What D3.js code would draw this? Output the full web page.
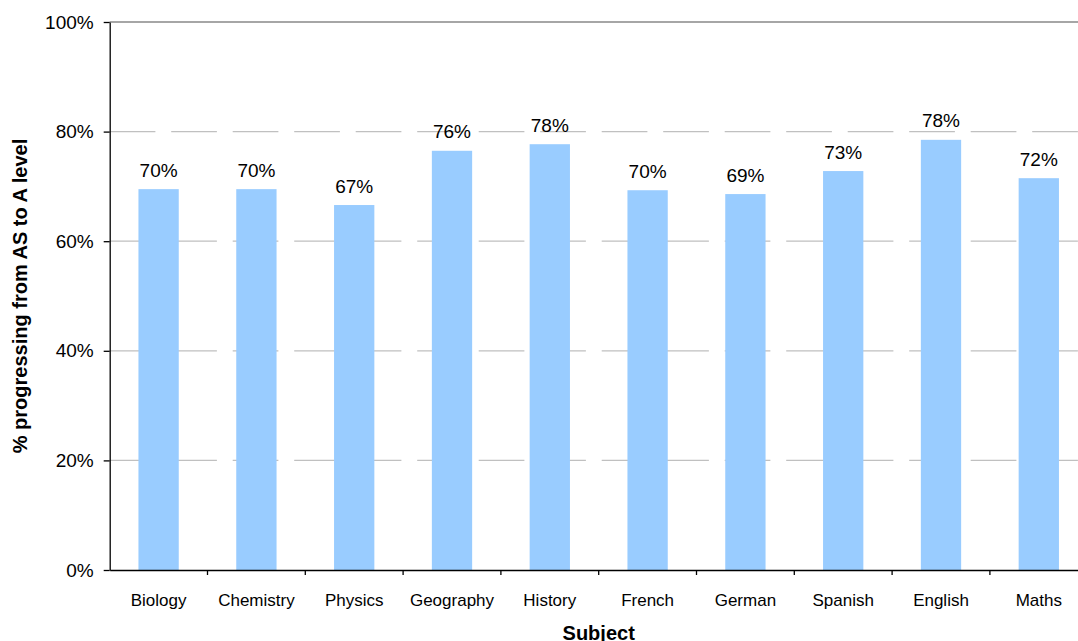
<!DOCTYPE html>
<html lang="en">
<head>
    <meta charset="UTF-8">
    <title>% progressing from AS to A level</title>
    <script src="https://d3js.org/d3.v7.min.js"></script>
    <style>
        body {
            margin: 0;
            padding: 0;
            background-color: #ffffff;
        }
        svg {
            display: block;
            font-family: "Liberation Sans", Arial, sans-serif;
        }
        .y-axis text {
            font-size: 19px;
            fill: #000;
        }
        .x-axis text {
            font-size: 17px;
            fill: #000;
        }
        .value-label {
            font-size: 19px;
            fill: #000;
        }
        .axis-title {
            font-size: 20px;
            font-weight: bold;
            fill: #000;
        }
    </style>
</head>
<body>
    <svg width="1078" height="641"></svg>

    <script>
        // Data
        const subjects = ["Biology", "Chemistry", "Physics", "Geography", "History",
                          "French", "German", "Spanish", "English", "Maths"];
        const progression = [0.695, 0.695, 0.666, 0.765, 0.777, 0.693, 0.686, 0.728, 0.785, 0.715];
        const labels = ["70%", "70%", "67%", "76%", "78%", "70%", "69%", "73%", "78%", "72%"];
        const yTicks = [0, 0.2, 0.4, 0.6, 0.8, 1.0];

        const data = subjects.map((s, i) => ({subject: s, value: progression[i], label: labels[i]}));

        // Plot area (right side runs past the window, as in the original)
        const plotLeft = 109.7, plotTop = 22, plotBottom = 570;
        const bandStep = 97.8;
        const plotRight = plotLeft + bandStep * subjects.length;
        const barWidth = 40.3;

        const svg = d3.select("svg");

        const x = d3.scaleBand().domain(subjects).range([plotLeft, plotRight]).padding(0);
        const y = d3.scaleLinear().domain([0, 1]).range([plotBottom, plotTop]);

        // Gridlines
        svg.append("g")
            .selectAll("line")
            .data(yTicks.filter(d => d > 0))
            .enter()
            .append("line")
            .attr("x1", plotLeft)
            .attr("x2", plotRight)
            .attr("y1", d => y(d))
            .attr("y2", d => y(d))
            .attr("stroke", d => d === 1 ? "#888888" : "#c0c0c0")
            .attr("stroke-width", 1.3)
            .attr("stroke-dasharray", d => d === 1 ? null : "45.7,15.8");

        // Bars
        svg.append("g")
            .selectAll("rect")
            .data(data)
            .enter()
            .append("rect")
            .attr("fill", "#99ccff")
            .attr("x", d => x(d.subject) + x.bandwidth() / 2 - barWidth / 2)
            .attr("width", barWidth)
            .attr("y", d => y(d.value))
            .attr("height", d => y(0) - y(d.value));

        // Value labels
        svg.append("g")
            .selectAll("text")
            .data(data)
            .enter()
            .append("text")
            .attr("class", "value-label")
            .attr("text-anchor", "middle")
            .attr("x", d => x(d.subject) + x.bandwidth() / 2)
            .attr("y", d => y(d.value) - 12.5)
            .text(d => d.label);

        // Y axis
        const yAxis = d3.axisLeft(y)
            .tickValues(yTicks)
            .tickFormat(d3.format(".0%"))
            .tickSizeInner(6)
            .tickSizeOuter(0)
            .tickPadding(10);

        const yG = svg.append("g")
            .attr("class", "y-axis")
            .attr("transform", `translate(${plotLeft},0)`)
            .call(yAxis);
        yG.attr("font-family", null).attr("font-size", null);
        yG.select(".domain").attr("stroke", "#000").attr("stroke-width", 1.3);
        yG.selectAll(".tick line").attr("stroke", "#000").attr("stroke-width", 1.3);

        // X axis: labels at band centres, ticks at band edges
        const xAxis = d3.axisBottom(x).tickSize(0).tickPadding(24);
        const xG = svg.append("g")
            .attr("class", "x-axis")
            .attr("transform", `translate(0,${plotBottom})`)
            .call(xAxis);
        xG.attr("font-family", null).attr("font-size", null);
        xG.select(".domain").attr("stroke", "#000").attr("stroke-width", 1.3);

        xG.selectAll(".edge-tick")
            .data(subjects.slice(1).concat([null]))
            .enter()
            .append("line")
            .attr("class", "edge-tick")
            .attr("x1", d => d === null ? plotRight : x(d))
            .attr("x2", d => d === null ? plotRight : x(d))
            .attr("y1", 0)
            .attr("y2", 5)
            .attr("stroke", "#000")
            .attr("stroke-width", 1.3);

        // Axis titles
        svg.append("text")
            .attr("class", "axis-title")
            .attr("text-anchor", "middle")
            .attr("x", (plotLeft + plotRight) / 2)
            .attr("y", 640)
            .text("Subject");

        svg.append("text")
            .attr("class", "axis-title")
            .attr("text-anchor", "middle")
            .attr("transform", `translate(27,${(plotTop + plotBottom) / 2}) rotate(-90)`)
            .text("% progressing from AS to A level");
    </script>
</body>
</html>
